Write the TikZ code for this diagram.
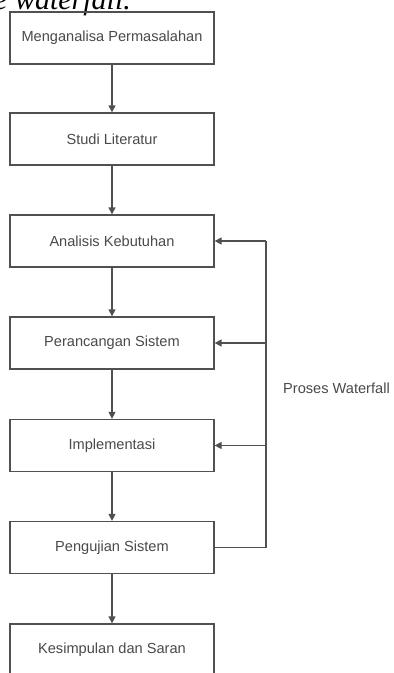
\documentclass[tikz,border=0pt]{standalone}
\usepackage{fontspec}
\setmainfont{Liberation Serif}
\newfontfamily\boxfont{Liberation Sans}
\usetikzlibrary{arrows.meta}
\definecolor{linec}{HTML}{505050}
\definecolor{textc}{HTML}{4A4A4A}
\tikzset{
  stepbox/.style={draw=linec, line width=1.3pt, minimum width=204pt, minimum height=52pt,
    inner sep=0pt, text=textc, font=\boxfont\fontsize{14.6pt}{16pt}\selectfont},
  flow/.style={draw=linec, line width=1.3pt, -{Triangle[length=7pt,width=7pt]}},
  plainline/.style={draw=linec, line width=1.3pt}
}
\begin{document}
\begin{tikzpicture}[x=1pt,y=-1pt]
\clip (0,0) rectangle (394,673);
\fill[white] (0,0) rectangle (394,673);
\node[anchor=base west, inner sep=0pt, font=\itshape\fontsize{30pt}{32pt}\selectfont] (cap) at (-6,9) {e waterfall.};
\node[stepbox] (s1) at (112,38) {Menganalisa Permasalahan};
\node[stepbox] (s2) at (112,139) {Studi Literatur};
\node[stepbox] (s3) at (112,241) {Analisis Kebutuhan};
\node[stepbox] (s4) at (112,343) {Perancangan Sistem};
\node[stepbox] (s5) at (112,445.5) {Implementasi};
\node[stepbox] (s6) at (112,547.5) {Pengujian Sistem};
\node[stepbox] (s7) at (112,650) {Kesimpulan dan Saran};
\draw[flow] (s1) -- (s2);
\draw[flow] (s2) -- (s3);
\draw[flow] (s3) -- (s4);
\draw[flow] (s4) -- (s5);
\draw[flow] (s5) -- (s6);
\draw[flow] (s6) -- (s7);
\coordinate (fb) at (266,547.5);
\coordinate (ft) at (266,241);
\draw[plainline] (s6.east) -- (fb) -- (ft);
\draw[flow] (ft) -- (s3.east);
\draw[flow] (ft |- s4.east) -- (s4.east);
\draw[flow] (ft |- s5.east) -- (s5.east);
\node[anchor=west, inner sep=0pt, text=textc, font=\boxfont\fontsize{14.6pt}{16pt}\selectfont] (lbl) at (283,388) {Proses Waterfall};
\end{tikzpicture}
\end{document}
